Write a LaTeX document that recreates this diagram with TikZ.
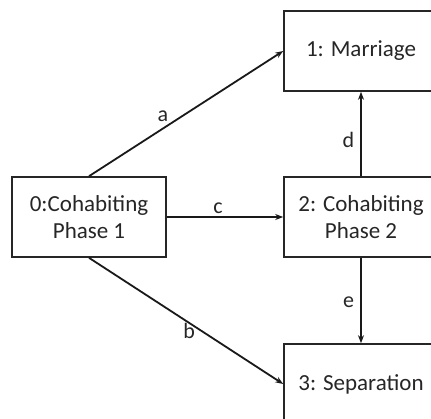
\documentclass[tikz,border=0pt]{standalone}
\usepackage{fontspec}
\setmainfont{Carlito}
\usetikzlibrary{arrows.meta,positioning}
\begin{document}
\begin{tikzpicture}[x=1pt,y=-1pt,
  state/.style={draw=black!85, line width=1.6pt, minimum width=154pt, minimum height=80pt, inner sep=0pt, align=center, font=\fontsize{23}{27}\selectfont, text=black!85},
  conn/.style={draw=black!90, line width=1.8pt, -{Stealth[length=8pt,width=6pt]}},
  lab/.style={font=\fontsize{22}{26}\selectfont, text=black!85, inner sep=2pt}]
\useasboundingbox (0,0) rectangle (431,418);
\clip (0,0) rectangle (431,418);
\node[state] (s0) at (89,217) {0:Cohabiting\\Phase 1};
\node[state] (s1) at (361,51) {1: Marriage};
\node[state] (s2) at (361,217) {2: Cohabiting\\Phase 2};
\node[state] (s3) at (361,384) {3: Separation};
\draw[conn] (s0.north) -- node[lab, pos=0.38, anchor=south, yshift=4pt, xshift=0pt] (la) {a} (s1.west);
\draw[conn] (s0.east) -- node[lab, pos=0.44, above] (lc) {c} (s2.west);
\draw[conn] (s0.south) -- node[lab, pos=0.5, anchor=north, yshift=1pt, xshift=3pt] (lb) {b} (s3.west);
\draw[conn] (s2.north) -- node[lab, pos=0.43, left=4pt] (ld) {d} (s1.south);
\draw[conn] (s2.south) -- node[lab, pos=0.52, left=4pt] (le) {e} (s3.north);
\end{tikzpicture}
\end{document}
